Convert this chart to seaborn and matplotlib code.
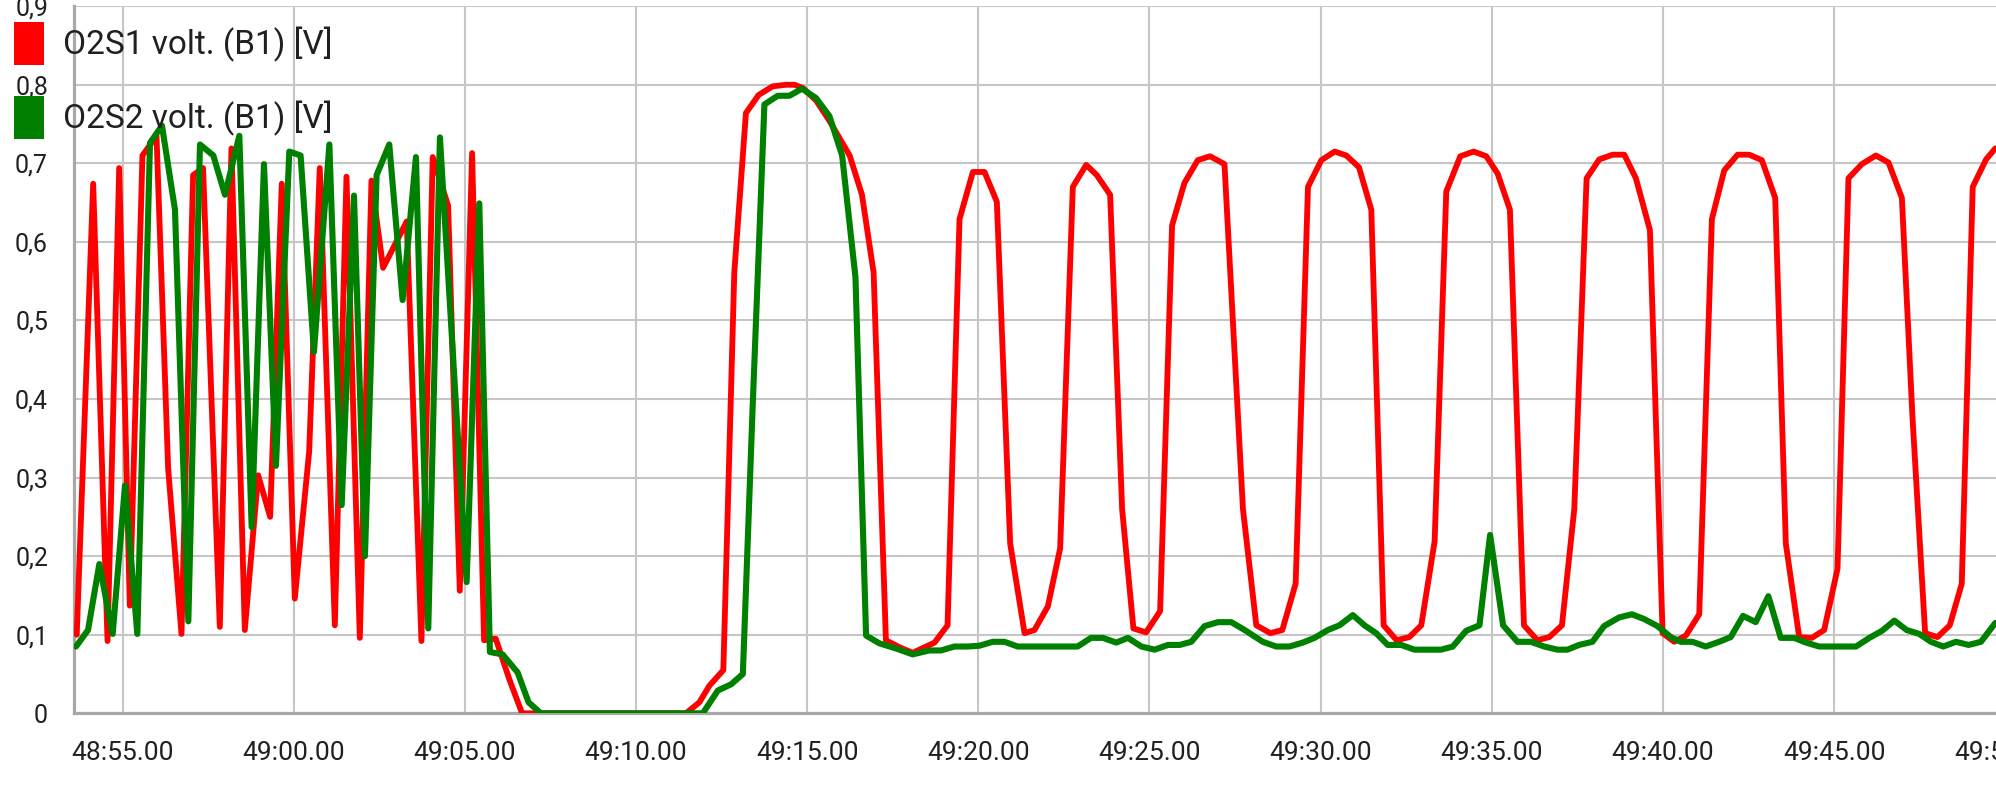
import matplotlib
matplotlib.use("Agg")
import matplotlib.pyplot as plt
from matplotlib.patches import Patch
from matplotlib.ticker import FuncFormatter, FixedLocator
import seaborn as sns

# ---------------- data (time in seconds after 48:00) ----------------
series_names = ["O2S1 volt. (B1) [V]", "O2S2 volt. (B1) [V]"]
series_colors = ["#ff0000", "#008000"]

o2s1_time = [53.66, 54.14, 54.56, 54.90, 55.21, 55.58, 55.99, 56.33, 56.72, 57.06,
             57.35, 57.84, 58.18, 58.57, 58.96, 59.31, 59.65, 60.03, 60.45, 60.76,
             61.20, 61.54, 61.93, 62.27, 62.61, 63.30, 63.73, 64.06, 64.51, 64.85,
             65.21, 65.56, 65.90, 66.30, 66.67, 71.46, 71.85, 72.14, 72.55, 72.87,
             73.21, 73.58, 73.99, 74.38, 74.63, 74.87, 75.26, 75.65, 76.24, 76.60,
             76.94, 77.30, 77.70, 78.08, 78.72, 79.10, 79.45, 79.84, 80.18, 80.54,
             80.93, 81.35, 81.64, 82.03, 82.39, 82.76, 83.15, 83.46, 83.85, 84.20,
             84.53, 84.90, 85.31, 85.66, 86.02, 86.41, 86.77, 87.19, 87.73, 88.12,
             88.53, 88.88, 89.27, 89.63, 90.02, 90.41, 90.75, 91.12, 91.48, 91.84,
             92.22, 92.59, 92.94, 93.33, 93.67, 94.08, 94.47, 94.84, 95.17, 95.53,
             95.94, 96.33, 96.68, 97.05, 97.41, 97.77, 98.14, 98.53, 98.87, 99.21,
             99.62, 99.99, 100.33, 100.67, 101.06, 101.43, 101.79, 102.18, 102.52, 102.89,
             103.28, 103.59, 103.98, 104.35, 104.71, 105.10, 105.42, 105.81, 106.22, 106.59,
             106.98, 107.29, 107.66, 108.02, 108.38, 108.73, 109.05, 109.44, 109.71]
o2s1_volt = [0.100, 0.674, 0.092, 0.694, 0.137, 0.710, 0.735, 0.312, 0.101, 0.685,
             0.694, 0.110, 0.719, 0.106, 0.303, 0.250, 0.674, 0.146, 0.333, 0.694,
             0.112, 0.683, 0.096, 0.678, 0.567, 0.626, 0.092, 0.708, 0.646, 0.156,
             0.713, 0.093, 0.095, 0.043, 0.000, 0.000, 0.014, 0.035, 0.055, 0.561,
             0.764, 0.787, 0.798, 0.800, 0.800, 0.796, 0.780, 0.754, 0.710, 0.660,
             0.561, 0.093, 0.084, 0.077, 0.090, 0.112, 0.629, 0.689, 0.689, 0.651,
             0.216, 0.102, 0.106, 0.136, 0.210, 0.670, 0.698, 0.685, 0.660, 0.260,
             0.108, 0.103, 0.130, 0.621, 0.675, 0.704, 0.709, 0.699, 0.260, 0.112,
             0.102, 0.106, 0.165, 0.670, 0.704, 0.715, 0.710, 0.695, 0.641, 0.112,
             0.093, 0.097, 0.112, 0.219, 0.664, 0.709, 0.715, 0.709, 0.687, 0.641,
             0.112, 0.093, 0.097, 0.112, 0.260, 0.681, 0.705, 0.711, 0.711, 0.681,
             0.615, 0.102, 0.091, 0.099, 0.126, 0.629, 0.691, 0.711, 0.711, 0.704,
             0.656, 0.216, 0.097, 0.096, 0.106, 0.184, 0.681, 0.699, 0.710, 0.701,
             0.656, 0.377, 0.102, 0.097, 0.112, 0.165, 0.670, 0.705, 0.719]

o2s2_time = [53.64, 53.99, 54.32, 54.71, 55.07, 55.43, 55.80, 56.15, 56.53, 56.92,
             57.26, 57.65, 57.99, 58.41, 58.77, 59.13, 59.48, 59.87, 60.20, 60.59,
             61.04, 61.40, 61.76, 62.08, 62.42, 62.79, 63.18, 63.57, 63.93, 64.27,
             65.05, 65.42, 65.73, 66.10, 66.54, 66.86, 67.22, 71.95, 72.39, 72.78,
             73.12, 73.41, 73.75, 74.14, 74.48, 74.85, 75.26, 75.65, 76.02, 76.41,
             76.72, 77.11, 77.56, 78.08, 78.57, 78.91, 79.30, 79.69, 80.03, 80.42,
             80.76, 81.15, 81.50, 81.85, 82.20, 82.55, 82.90, 83.29, 83.64, 84.03,
             84.37, 84.76, 85.15, 85.54, 85.88, 86.22, 86.61, 87.00, 87.39, 87.78,
             88.31, 88.70, 89.09, 89.48, 89.82, 90.21, 90.55, 90.94, 91.28, 91.62,
             91.96, 92.35, 92.74, 93.13, 93.52, 93.86, 94.25, 94.64, 94.95, 95.33,
             95.75, 96.14, 96.53, 96.92, 97.21, 97.55, 97.94, 98.28, 98.72, 99.09,
             99.45, 99.84, 100.23, 100.52, 100.86, 101.25, 101.64, 101.98, 102.34, 102.71,
             103.08, 103.44, 103.83, 104.18, 104.56, 104.92, 105.28, 105.64, 106.03, 106.40,
             106.76, 107.12, 107.49, 107.83, 108.19, 108.56, 108.93, 109.29, 109.71]
o2s2_volt = [0.085, 0.106, 0.190, 0.101, 0.290, 0.101, 0.726, 0.748, 0.641, 0.117,
             0.724, 0.710, 0.660, 0.735, 0.237, 0.699, 0.315, 0.715, 0.710, 0.460,
             0.724, 0.265, 0.659, 0.200, 0.685, 0.724, 0.526, 0.708, 0.108, 0.733,
             0.167, 0.649, 0.078, 0.075, 0.052, 0.014, 0.000, 0.000, 0.029, 0.037,
             0.050, 0.394, 0.775, 0.786, 0.786, 0.795, 0.783, 0.760, 0.710, 0.555,
             0.099, 0.089, 0.083, 0.075, 0.080, 0.080, 0.085, 0.085, 0.086, 0.091,
             0.091, 0.085, 0.085, 0.085, 0.085, 0.085, 0.085, 0.096, 0.096, 0.090,
             0.096, 0.085, 0.081, 0.087, 0.087, 0.091, 0.111, 0.116, 0.116, 0.106,
             0.091, 0.085, 0.085, 0.090, 0.096, 0.106, 0.112, 0.125, 0.112, 0.102,
             0.087, 0.087, 0.081, 0.081, 0.081, 0.085, 0.105, 0.112, 0.227, 0.112,
             0.091, 0.091, 0.085, 0.081, 0.081, 0.087, 0.091, 0.111, 0.122, 0.126,
             0.120, 0.111, 0.097, 0.091, 0.091, 0.085, 0.091, 0.097, 0.124, 0.116,
             0.149, 0.096, 0.096, 0.090, 0.085, 0.085, 0.085, 0.085, 0.096, 0.105,
             0.118, 0.106, 0.101, 0.091, 0.085, 0.091, 0.087, 0.091, 0.115]

x_ticks = [55, 60, 65, 70, 75, 80, 85, 90, 95, 100, 105, 110]
y_ticks = [0.0, 0.1, 0.2, 0.3, 0.4, 0.5, 0.6, 0.7, 0.8, 0.9]
x_range = (53.58, 109.73)
y_range = (0.0, 0.9)

# ---------------- style ----------------
sns.set_style("white")
plt.rcParams['font.family'] = ['Roboto', 'DejaVu Sans']

W, H = 1996, 808
fig = plt.figure(figsize=(W / 100, H / 100), dpi=100)
ax = fig.add_axes([74 / W, 1 - 713.3 / H, 1 - 74 / W, (713.3 - 6.2) / H])

grid_c = "#c6c6c6"
axis_c = "#a8a8a8"
text_c = "#202020"

sns.lineplot(x=o2s1_time, y=o2s1_volt, color=series_colors[0], linewidth=4.2,
             estimator=None, ax=ax, zorder=3)
sns.lineplot(x=o2s2_time, y=o2s2_volt, color=series_colors[1], linewidth=4.4,
             estimator=None, ax=ax, zorder=4)

ax.set_xlim(*x_range)
ax.set_ylim(*y_range)
ax.set_xlabel("")
ax.set_ylabel("")


def fmt_time(t, pos=None):
    m = 48 + int(round(t) // 60)
    s = int(round(t)) % 60
    return f"{m}:{s:02d}.00"


def fmt_volt(v, pos=None):
    if abs(v) < 1e-9:
        return "0"
    return f"{v:.1f}".replace(".", ",")


ax.xaxis.set_major_locator(FixedLocator(x_ticks))
ax.yaxis.set_major_locator(FixedLocator(y_ticks))
ax.xaxis.set_major_formatter(FuncFormatter(fmt_time))
ax.yaxis.set_major_formatter(FuncFormatter(fmt_volt))

ax.set_axisbelow(True)
ax.grid(True, color=grid_c, linewidth=1.5)
for side in ("top", "right"):
    ax.spines[side].set_visible(False)
for side in ("left", "bottom"):
    ax.spines[side].set_color(axis_c)
    ax.spines[side].set_linewidth(2.3)

tick_len = 12.2
x_pad = 8
ax.tick_params(axis="both", direction="out", length=tick_len, width=2.2,
               color=axis_c, labelcolor=text_c)
ax.tick_params(axis="x", labelsize=19, pad=x_pad)
ax.tick_params(axis="y", labelsize=18, pad=6.5)

# tick label for the last (partly cut) tick beyond the right edge
for t in x_ticks:
    if t > x_range[1]:
        ax.annotate(fmt_time(t), xy=(t, 0), xycoords=("data", "axes fraction"),
                    xytext=(0, -(tick_len + x_pad)), textcoords="offset points",
                    ha="center", va="top", fontsize=19, color=text_c,
                    annotation_clip=False)

handles = [Patch(facecolor=c, edgecolor="none") for c in series_colors]
fig.legend(handles, series_names, loc="upper left",
           bbox_to_anchor=(14 / W, 1 - 22 / H), bbox_transform=fig.transFigure,
           frameon=False, borderpad=0, borderaxespad=0,
           handlelength=0.9, handleheight=1.61, handletextpad=0.57,
           labelspacing=0.92, fontsize=24, labelcolor=text_c)

fig.savefig("out.png", dpi=100)
